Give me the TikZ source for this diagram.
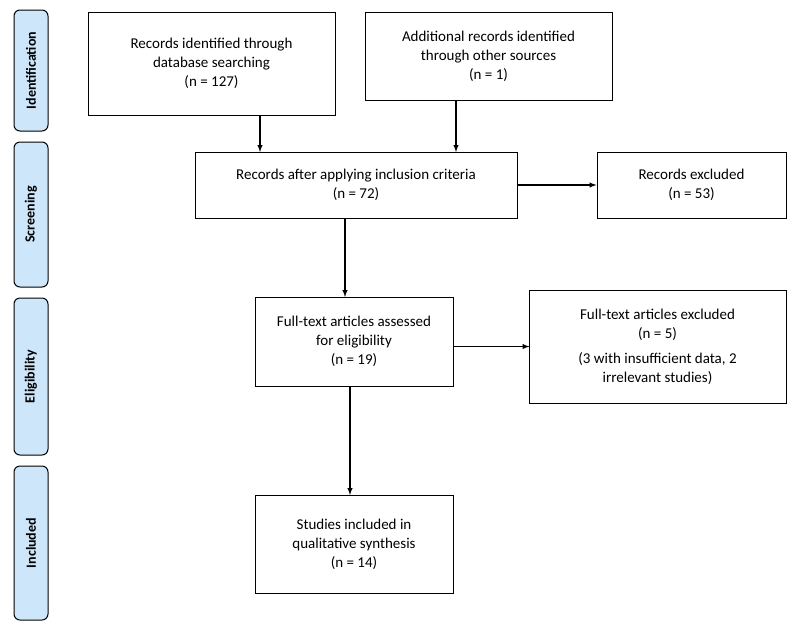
\documentclass[tikz,border=0pt]{standalone}
\usepackage{fontspec}
\setmainfont{Carlito}
\definecolor{sidebl}{RGB}{205,230,250}
\begin{document}
\begin{tikzpicture}[x=1pt,y=-1pt,
box/.style={draw,line width=1pt,align=center,font=\fontsize{15}{19}\selectfont,inner sep=0pt},
side/.style={draw,line width=1pt,rounded corners=6pt,fill=sidebl,minimum height=34,rotate=90,font=\bfseries\fontsize{14}{16}\selectfont},
arr/.style={-latex,line width=1.4pt}]
\useasboundingbox (0,0) rectangle (800,630);
\foreach \n/\t/\a/\b in {s1/Identification/10/131,s2/Screening/142/287,s3/Eligibility/298/455,s4/Included/466/620}{
  \node[side,minimum width={\b-\a}] (\n) at (31,{(\a+\b)/2}) {\t};}
\node[box,minimum width=247,minimum height=103] (a) at (211.5,63.5) {Records identified through\\database searching\\(n = 127)};
\node[box,minimum width=247,minimum height=88] (b) at (488.5,56) {Additional records identified\\through other sources\\(n = 1)};
\node[box,minimum width=322,minimum height=66] (c) at (356,185) {Records after applying inclusion criteria\\(n = 72)};
\node[box,minimum width=189,minimum height=66] (d) at (691.5,185) {Records excluded\\(n = 53)};
\node[box,minimum width=198,minimum height=89] (e) at (354,341.5) {Full-text articles assessed\\for eligibility\\(n = 19)};
\node[box,minimum width=257,minimum height=113] (f) at (657.5,346.5) {Full-text articles excluded\\(n = 5)\\[6pt](3 with insufficient data, 2\\irrelevant studies)};
\node[box,minimum width=198,minimum height=98] (g) at (354,544) {Studies included in\\qualitative synthesis\\(n = 14)};
\draw[arr] (260,115) -- (260,152);
\draw[arr] (456,100) -- (456,152);
\draw[arr] (345,218) -- (345,297);
\draw[arr] (c.east) -- (d.west);
\draw[arr] (e.east) ++(0,5) -- ++(76,0);
\draw[arr] (350,386) -- (350,495);
\end{tikzpicture}
\end{document}
